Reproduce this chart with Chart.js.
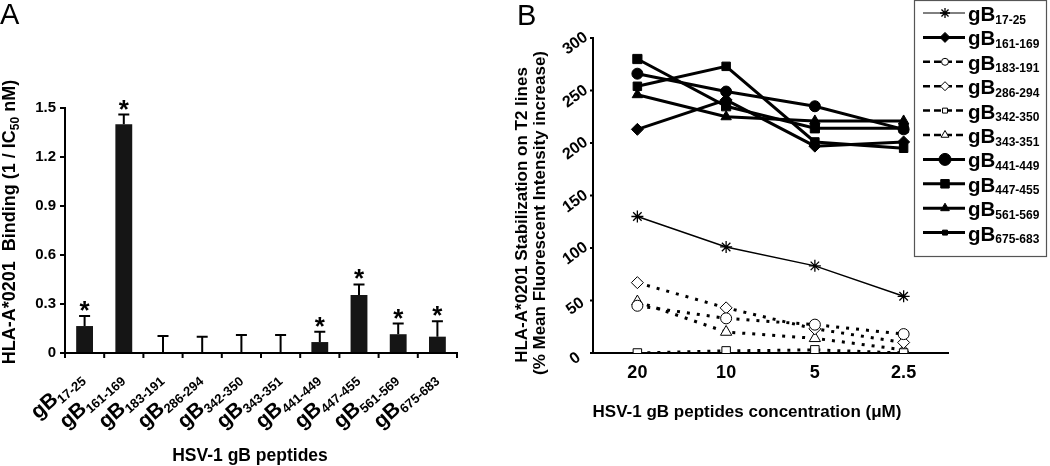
<!DOCTYPE html>
<html><head><meta charset="utf-8">
<script src="https://cdn.jsdelivr.net/npm/chart.js@4/dist/chart.umd.min.js"></script>
<style>
html,body{margin:0;padding:0;background:#fff;width:1050px;height:466px;overflow:hidden;position:relative;}
#ca{position:absolute;left:0;top:0;}
#cb{position:absolute;left:480px;top:0;}
.panel{position:absolute;font-family:"Liberation Sans",Arial,sans-serif;font-size:29px;line-height:29px;color:#000;}
.anchor{position:absolute;width:0;height:0;}
.xlab{position:absolute;right:0;bottom:-3px;white-space:nowrap;font:bold 21px/21px "Liberation Sans",Arial,sans-serif;color:#000;transform-origin:100% 100%;transform:rotate(-41deg);}
.xlab span{font-size:13px;position:relative;top:4px;}
.ylab{position:absolute;left:0;top:0;white-space:nowrap;font:bold 16px/16px "Liberation Sans",Arial,sans-serif;color:#000;transform:translate(-50%,-50%) rotate(-36deg);}
</style></head><body>
<canvas id="ca" width="480" height="466" style="width:480px;height:466px"></canvas>
<canvas id="cb" width="570" height="466" style="width:570px;height:466px"></canvas>
<div class="panel" style="left:0;top:0">A</div>
<div class="panel" style="left:517px;top:1px">B</div>
<script>
// ---------- Panel A data ----------
const peptidesA = ['17-25','161-169','183-191','286-294','342-350','343-351','441-449','447-455','561-569','675-683'];
const bindingA = [0.165, 1.40, 0, 0, 0, 0, 0.067, 0.355, 0.115, 0.10];
const errorA = [0.062, 0.06, 0.104, 0.10, 0.11, 0.11, 0.063, 0.065, 0.065, 0.095];
const significantA = [true, true, false, false, false, false, true, true, true, true];
const yTicksA = [0, 0.3, 0.6, 0.9, 1.2, 1.5];

// ---------- Panel B data ----------
const concLabels = ['20', '10', '5', '2.5'];
const gB17_25   = [130, 101, 83, 54];
const gB161_169 = [213, 241, 197, 201];
const gB183_191 = [45, 33, 27, 18];
const gB286_294 = [67, 43, 23, 10];
const gB342_350 = [0, 2, 3, 0];
const gB343_351 = [49, 20, 14, 3];
const gB441_449 = [266, 249, 235, 213];
const gB447_455 = [280, 235, 214, 214];
const gB561_569 = [246, 225, 221, 221];
const gB675_683 = [254, 273, 201, 195];
const yTicksB = [0, 50, 100, 150, 200, 250, 300];

const FONT = '"Liberation Sans", Arial, Helvetica, sans-serif';
const bold = px => `bold ${px}px ${FONT}`;

function drawRuns(ctx, x, y, runs, align) {
  let total = 0;
  const ws = runs.map(r => { ctx.font = bold(r.px); const w = ctx.measureText(r.t).width; total += w; return w; });
  let cx = align === 'right' ? x - total : align === 'center' ? x - total / 2 : x;
  ctx.textAlign = 'left';
  runs.forEach((r, i) => { ctx.font = bold(r.px); ctx.fillText(r.t, cx, y + (r.dy || 0)); cx += ws[i]; });
}

// ---------- Panel A ----------
const plugA = {
  id: 'annA',
  afterDatasetsDraw(chart) {
    const ctx = chart.ctx, xs = chart.scales.x, ys = chart.scales.y;
    const axisY = ys.getPixelForValue(0);
    ctx.save();
    ctx.strokeStyle = '#000'; ctx.fillStyle = '#000'; ctx.lineWidth = 2;
    const n = peptidesA.length;
    ctx.beginPath();
    for (let i = 0; i <= n; i++) {
      const bx = i === 0 ? xs.left : i === n ? xs.right : (xs.getPixelForValue(i - 1) + xs.getPixelForValue(i)) / 2;
      ctx.moveTo(bx, axisY); ctx.lineTo(bx, axisY + 5);
    }
    ctx.stroke();
    bindingA.forEach((v, i) => {
      const cx = xs.getPixelForValue(i);
      const y0 = ys.getPixelForValue(v), y1 = ys.getPixelForValue(v + errorA[i]);
      ctx.beginPath();
      ctx.moveTo(cx, y0); ctx.lineTo(cx, y1);
      ctx.moveTo(cx - 5.5, y1); ctx.lineTo(cx + 5.5, y1);
      ctx.stroke();
      if (significantA[i]) {
        ctx.font = bold(26); ctx.textAlign = 'center'; ctx.textBaseline = 'alphabetic';
        ctx.fillText('*', cx, y1 + 3);
      }
    });
    ctx.textBaseline = 'alphabetic';
    ctx.save();
    ctx.translate(15, 222);
    ctx.rotate(-Math.PI / 2);
    drawRuns(ctx, 0, 0, [{t: 'HLA-A*0201  Binding (1 / IC', px: 18}, {t: '50', px: 12, dy: 4}, {t: ' nM)', px: 18}], 'center');
    ctx.restore();
    drawRuns(ctx, 250, 461, [{t: 'HSV-1 gB peptides', px: 17.5}], 'center');
    ctx.restore();
  }
};

const chartA = new Chart(document.getElementById('ca'), {
  type: 'bar',
  data: { labels: peptidesA.map(p => 'gB' + p),
    datasets: [{ data: bindingA, backgroundColor: '#151515', borderWidth: 0, barPercentage: 0.43, categoryPercentage: 1 }] },
  options: {
    responsive: false, animation: false, devicePixelRatio: 1,
    layout: { padding: { left: 0, top: 108, right: 23, bottom: 0 } },
    plugins: { legend: { display: false }, tooltip: { enabled: false } },
    scales: {
      x: {
        grid: { display: false },
        border: { display: true, color: '#000', width: 2 },
        ticks: { display: false },
        afterFit: s => { s.height = 113; }
      },
      y: {
        min: 0, max: 1.5,
        afterBuildTicks: s => { s.ticks = yTicksA.map(v => ({ value: v })); },
        grid: { drawOnChartArea: false, drawTicks: true, tickLength: 5, color: '#000', lineWidth: 2 },
        border: { display: true, color: '#000', width: 2 },
        ticks: { color: '#000', font: { family: FONT, size: 15, weight: 'bold' }, padding: 4,
          callback: v => v === 0 ? '0' : v.toFixed(1) },
        afterFit: s => { s.width = 65; }
      }
    }
  },
  plugins: [plugA]
});

// rotated category labels (HTML text placed from the chart's x scale)
(function () {
  const xs = chartA.scales.x, axisY = chartA.scales.y.getPixelForValue(0);
  peptidesA.forEach((p, i) => {
    const a = document.createElement('div');
    a.className = 'anchor';
    a.style.left = (xs.getPixelForValue(i) + 4) + 'px';
    a.style.top = (axisY + 28) + 'px';
    const l = document.createElement('div');
    l.className = 'xlab';
    l.innerHTML = 'gB<span>' + p + '</span>';
    a.appendChild(l);
    document.body.appendChild(a);
  });
})();

// ---------- Panel B ----------
const DASH = [3, 7];
const seriesB = [
  { name: '17-25',   data: gB17_25,   ps: 'star',    r: 6,   pr: 5,   lw: 1.5, llw: 1,   dash: [],   fill: '#000', pbw: 1.3 },
  { name: '161-169', data: gB161_169, ps: 'rectRot', r: 6,   pr: 5,   lw: 3,   llw: 3,   dash: [],   fill: '#000', pbw: 1 },
  { name: '183-191', data: gB183_191, ps: 'circle',  r: 5.5, pr: 3.5, lw: 3,   llw: 2.5, dash: DASH, fill: '#fff', pbw: 1 },
  { name: '286-294', data: gB286_294, ps: 'rectRot', r: 6,   pr: 4.5, lw: 3,   llw: 2.5, dash: DASH, fill: '#fff', pbw: 1 },
  { name: '342-350', data: gB342_350, ps: 'rect',    r: 6,   pr: 3.5, lw: 3,   llw: 2.5, dash: DASH, fill: '#fff', pbw: 1 },
  { name: '343-351', data: gB343_351, ps: 'triangle',r: 6.5, pr: 4.5, lw: 3,   llw: 2.5, dash: DASH, fill: '#fff', pbw: 1 },
  { name: '441-449', data: gB441_449, ps: 'circle',  r: 5.5, pr: 6,   lw: 3,   llw: 3,   dash: [],   fill: '#000', pbw: 1 },
  { name: '447-455', data: gB447_455, ps: 'rect',    r: 6.5, pr: 6,   lw: 3,   llw: 3,   dash: [],   fill: '#000', pbw: 1 },
  { name: '561-569', data: gB561_569, ps: 'triangle',r: 6,   pr: 5,   lw: 3,   llw: 3,   dash: [],   fill: '#000', pbw: 1 },
  { name: '675-683', data: gB675_683, ps: 'rect',    r: 6,   pr: 3.5, lw: 3,   llw: 3,   dash: [],   fill: '#000', pbw: 1 }
];

const plugB = {
  id: 'annB',
  afterDraw(chart) {
    const ctx = chart.ctx, ys = chart.scales.y;
    ctx.save();
    ctx.fillStyle = '#000'; ctx.strokeStyle = '#000';
    ctx.lineWidth = 2;
    ctx.beginPath();
    yTicksB.forEach(v => { const y = ys.getPixelForValue(v); ctx.moveTo(ys.right, y); ctx.lineTo(ys.right - 3, y); });
    ctx.stroke();
    ctx.textBaseline = 'alphabetic';
    ctx.save();
    ctx.translate(47, 215); ctx.rotate(-Math.PI / 2);
    drawRuns(ctx, 0, 0, [{t: 'HLA-A*0201 Stabilization on T2 lines', px: 17}], 'center');
    ctx.restore();
    ctx.save();
    ctx.translate(65, 213); ctx.rotate(-Math.PI / 2);
    drawRuns(ctx, 0, 0, [{t: '(% Mean Fluorescent Intensity increase)', px: 17}], 'center');
    ctx.restore();
    drawRuns(ctx, 267, 417, [{t: 'HSV-1 gB peptides concentration (\u03BCM)', px: 17}], 'center');
    // legend
    const L = 434, T = 0, W = 132, H = 257;
    ctx.fillStyle = '#fff';
    ctx.fillRect(L, T, W, H);
    ctx.strokeStyle = '#555'; ctx.lineWidth = 1.2;
    ctx.strokeRect(L + 0.5, T + 0.5, W, H - 1);
    seriesB.forEach((s, i) => {
      const y = 13 + 24.4 * i;
      ctx.strokeStyle = '#000'; ctx.lineWidth = s.llw;
      ctx.setLineDash(s.dash.length ? [7, 4] : []);
      ctx.beginPath(); ctx.moveTo(443, y); ctx.lineTo(485, y); ctx.stroke();
      ctx.setLineDash([]);
      ctx.fillStyle = s.fill; ctx.strokeStyle = '#000'; ctx.lineWidth = s.pbw;
      Chart.helpers.drawPoint(ctx, { pointStyle: s.ps, radius: s.pr, rotation: 0, borderWidth: s.pbw }, 465, y);
      ctx.fillStyle = '#000';
      drawRuns(ctx, 488, y + 8, [{t: 'gB', px: 20.5}, {t: s.name, px: 12, dy: 2.5}], 'left');
    });
    ctx.restore();
  }
};

const chartB = new Chart(document.getElementById('cb'), {
  type: 'line',
  data: {
    labels: concLabels,
    datasets: seriesB.map(s => ({
      label: 'gB' + s.name, data: s.data,
      borderColor: '#000', borderWidth: s.lw, borderDash: s.dash, tension: 0, fill: false,
      pointStyle: s.ps, pointRadius: s.r, pointBackgroundColor: s.fill, pointBorderColor: '#000', pointBorderWidth: s.pbw
    }))
  },
  options: {
    responsive: false, animation: false, devicePixelRatio: 1,
    layout: { padding: { left: 0, top: 38, right: 102, bottom: 0 } },
    plugins: { legend: { display: false }, tooltip: { enabled: false } },
    scales: {
      x: {
        type: 'category', offset: true,
        grid: { display: false, drawTicks: false },
        border: { display: true, color: '#000', width: 2 },
        ticks: { color: '#000', font: { family: FONT, size: 18, weight: 'bold' }, padding: 9, maxRotation: 0, minRotation: 0 },
        afterFit: s => { s.height = 113; }
      },
      y: {
        min: 0, max: 300,
        afterBuildTicks: s => { s.ticks = yTicksB.map(v => ({ value: v })); },
        grid: { display: false },
        border: { display: true, color: '#000', width: 2 },
        ticks: { display: false },
        afterFit: s => { s.width = 113; }
      }
    }
  },
  plugins: [plugB]
});

// rotated y tick labels (HTML text placed from the chart's y scale)
(function () {
  const ys = chartB.scales.y;
  yTicksB.forEach(v => {
    const a = document.createElement('div');
    a.className = 'anchor';
    a.style.left = (480 + ys.right - 18) + 'px';
    a.style.top = (ys.getPixelForValue(v) + 5) + 'px';
    const l = document.createElement('div');
    l.className = 'ylab';
    l.textContent = String(v);
    a.appendChild(l);
    document.body.appendChild(a);
  });
})();
</script>
</body></html>
